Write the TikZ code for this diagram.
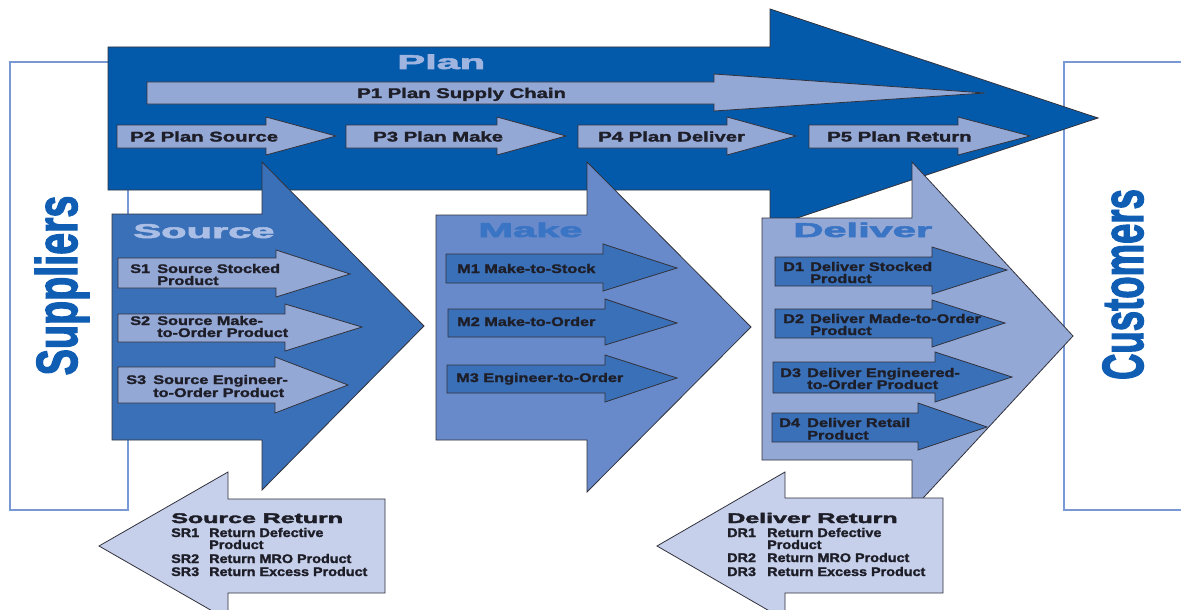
\documentclass[tikz,border=0pt]{standalone}
\usepackage{fontspec}
\setmainfont{Liberation Sans}
\newfontfamily\heavy[BoldFeatures={FakeBold=1.6}]{Liberation Sans}
\newfontfamily\heavier[BoldFeatures={FakeBold=2.5}]{Liberation Sans}
\definecolor{planblue}{RGB}{4,90,170}
\definecolor{srcblue}{RGB}{58,112,184}
\definecolor{makeblue}{RGB}{104,138,202}
\definecolor{delblue}{RGB}{148,168,214}
\definecolor{retblue}{RGB}{198,208,235}
\definecolor{planlab}{RGB}{160,180,224}
\definecolor{srclab}{RGB}{170,190,230}
\definecolor{midlab}{RGB}{58,116,196}
\definecolor{sideblue}{RGB}{16,94,180}
\definecolor{boxline}{RGB}{120,152,214}
\definecolor{outl}{RGB}{50,50,60}
\definecolor{txt}{RGB}{30,30,40}
\newcommand{\rarr}[9]{\draw[#1] (#2,#3) -- (#5,#3) -- (#5,#6) -- (#8,#9) -- (#5,#7) -- (#5,#4) -- (#2,#4) -- cycle;}
\tikzset{
  sidebox/.style={draw=boxline, line width=1.2pt},
  bigarr/.style={draw=outl, line width=0.8pt, line join=miter},
  smallarr/.style={draw=outl, line width=0.8pt, line join=miter},
  ptext/.style={font=\heavy\fontsize{14}{14}\selectfont\bfseries, text=txt, inner sep=0pt, anchor=base west, xscale=1.45},
  itext/.style={font=\heavy\fontsize{12.5}{12.5}\selectfont\bfseries, text=txt, inner sep=0pt, anchor=base west, xscale=1.3},
  rtitle/.style={font=\heavier\fontsize{14}{14}\selectfont\bfseries, text=txt, inner sep=0pt, anchor=base west, xscale=1.78},
  rtext/.style={font=\heavy\fontsize{12.5}{12.5}\selectfont\bfseries, text=txt, inner sep=0pt, anchor=base west, xscale=1.15},
  biglabel/.style={font=\heavier\fontsize{20}{20}\selectfont\bfseries, inner sep=0pt, anchor=base west, xscale=2.08},
  sidetext/.style={font=\heavier\fontsize{58}{58}\selectfont\bfseries, text=sideblue, inner sep=0pt, anchor=base, rotate=90},
}
\begin{document}
\begin{tikzpicture}[x=1pt, y=-1pt]
\useasboundingbox (0,0) rectangle (1181,610);
\fill[white] (0,0) rectangle (1181,610);
\clip (0,0) rectangle (1181,610);

% side boxes
\draw[sidebox] (10,62) rectangle (128,510);
\draw[sidebox] (1064,62) rectangle (1200,510);
\node[sidetext, xscale=0.68] (suppliers) at (77,285.5) {Suppliers};
\node[sidetext, xscale=0.63] (customers) at (1143,284.5) {Customers};

% Plan
\rarr{bigarr, fill=planblue}{108}{47}{190}{770}{9}{227}{1098}{118}
\node[biglabel, text=planlab] (planlabel) at (397,69) {Plan};
\rarr{smallarr, fill=delblue}{147}{82}{104}{714}{74}{111}{985}{93}
\node[ptext] (p1) at (357,98) {P1 Plan Supply Chain};
\rarr{smallarr, fill=delblue}{117}{125}{148}{266}{117}{155}{336}{136}
\node[ptext] (p2) at (130,141.5) {P2 Plan Source};
\rarr{smallarr, fill=delblue}{346}{125}{148}{497}{117}{155}{566}{136}
\node[ptext] (p3) at (373,141.5) {P3 Plan Make};
\rarr{smallarr, fill=delblue}{578}{125}{148}{727}{117}{155}{796}{136}
\node[ptext] (p4) at (598,141.5) {P4 Plan Deliver};
\rarr{smallarr, fill=delblue}{809}{125}{148}{958}{117}{155}{1030}{136}
\node[ptext] (p5) at (827,141.5) {P5 Plan Return};

% Source
\rarr{bigarr, fill=srcblue}{112}{214}{440}{262}{162}{490}{424}{326}
\node[biglabel, text=srclab] (srclabel) at (133,238) {Source};
\rarr{smallarr, fill=delblue}{118}{258}{288}{276}{250}{297}{350}{274}
\node[itext] (s1a) at (130,273) {S1};
\node[itext] (s1b) at (157,273) {Source Stocked};
\node[itext] (s1c) at (157,285) {Product};
\rarr{smallarr, fill=delblue}{118}{314}{342}{285}{304}{351}{362}{327}
\node[itext] (s2a) at (130,325) {S2};
\node[itext] (s2b) at (157,325) {Source Make-};
\node[itext] (s2c) at (157,337) {to-Order Product};
\rarr{smallarr, fill=delblue}{118}{367}{403}{275}{357}{413}{348}{385}
\node[itext] (s3a) at (126,384) {S3};
\node[itext] (s3b) at (153,384) {Source Engineer-};
\node[itext] (s3c) at (153,397) {to-Order Product};

% Make
\rarr{bigarr, fill=makeblue}{436}{215}{440}{587}{162}{492}{751}{327}
\node[biglabel, text=midlab] (makelabel) at (478,237) {Make};
\rarr{smallarr, fill=srcblue}{446}{254}{283}{603}{244}{291}{677}{268}
\node[itext] (m1) at (457,273) {M1 Make-to-Stock};
\rarr{smallarr, fill=srcblue}{448}{309}{337}{605}{299}{345}{677}{323}
\node[itext] (m2) at (457,326) {M2 Make-to-Order};
\rarr{smallarr, fill=srcblue}{447}{365}{393}{605}{355}{402}{677}{378}
\node[itext] (m3) at (456,382) {M3 Engineer-to-Order};

% Deliver
\rarr{bigarr, fill=delblue}{762}{218}{460}{912}{162}{510}{1073}{336}
\node[biglabel, text=midlab] (dellabel) at (793,237) {Deliver};
\rarr{smallarr, fill=srcblue}{775}{257}{286}{932}{247}{294}{1007}{270}
\node[itext] (d1a) at (783,271) {D1};
\node[itext] (d1b) at (810,271) {Deliver Stocked};
\node[itext] (d1c) at (810,283) {Product};
\rarr{smallarr, fill=srcblue}{775}{309}{338}{932}{300}{347}{1005}{323}
\node[itext] (d2a) at (783,323) {D2};
\node[itext] (d2b) at (810,323) {Deliver Made-to-Order};
\node[itext] (d2c) at (810,335) {Product};
\rarr{smallarr, fill=srcblue}{773}{362}{393}{935}{352}{402}{1012}{377}
\node[itext] (d3a) at (780,377) {D3};
\node[itext] (d3b) at (807,377) {Deliver Engineered-};
\node[itext] (d3c) at (807,389) {to-Order Product};
\rarr{smallarr, fill=srcblue}{772}{413}{442}{918}{403}{450}{987}{427}
\node[itext] (d4a) at (779,427) {D4};
\node[itext] (d4b) at (807,427) {Deliver Retail};
\node[itext] (d4c) at (807,439.5) {Product};

% Source Return
\rarr{bigarr, fill=retblue}{385}{499}{593}{228}{472}{620}{99}{546}
\node[rtitle] (srt) at (171,523) {Source Return};
\node[rtext] (sr1a) at (171,537) {SR1};
\node[rtext] (sr1b) at (209,537) {Return Defective};
\node[rtext] (sr1c) at (209,549) {Product};
\node[rtext] (sr2a) at (171,563) {SR2};
\node[rtext] (sr2b) at (209,563) {Return MRO Product};
\node[rtext] (sr3a) at (171,576) {SR3};
\node[rtext] (sr3b) at (209,576) {Return Excess Product};

% Deliver Return
\rarr{bigarr, fill=retblue}{943}{498}{593}{785}{472}{620}{657}{546}
\node[rtitle] (drt) at (727,523) {Deliver Return};
\node[rtext] (dr1a) at (727,537) {DR1};
\node[rtext] (dr1b) at (767,537) {Return Defective};
\node[rtext] (dr1c) at (767,549) {Product};
\node[rtext] (dr2a) at (727,562) {DR2};
\node[rtext] (dr2b) at (767,562) {Return MRO Product};
\node[rtext] (dr3a) at (727,576) {DR3};
\node[rtext] (dr3b) at (767,576) {Return Excess Product};
\end{tikzpicture}
\end{document}
